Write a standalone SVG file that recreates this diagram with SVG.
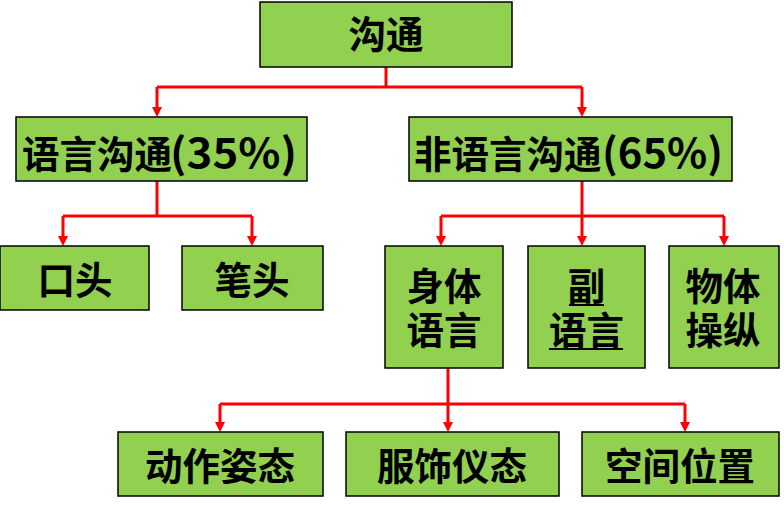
<svg xmlns="http://www.w3.org/2000/svg" width="784" height="509" viewBox="0 0 784 509">
<style>
.box{fill:#92D050;stroke:#000;stroke-width:1.5}
.t{font-family:"Noto Sans CJK SC","Microsoft YaHei",sans-serif;font-weight:bold;font-size:37.5px;fill:#000}
.c{text-anchor:middle}
.lat{font-size:41px}
.ln{fill:none;stroke:#FF0000;stroke-width:3}
.ul{stroke:#000;stroke-width:2}
</style>
<defs>
<marker id="ah" viewBox="0 0 10 10" markerUnits="userSpaceOnUse" markerWidth="10" markerHeight="11" refX="4" refY="5" orient="auto">
<path d="M0,0 L10,5 L0,10 z" fill="#FF0000"/>
</marker>
</defs>
<rect width="784" height="509" fill="#fff"/>
<g id="connectors">
<path class="ln" d="M386,67 V87"/>
<path class="ln" d="M157,87 H582"/>
<path class="ln" d="M157,87 V111" marker-end="url(#ah)"/>
<path class="ln" d="M582,87 V111" marker-end="url(#ah)"/>
<path class="ln" d="M157,181 V216"/>
<path class="ln" d="M63,216 H252"/>
<path class="ln" d="M63,216 V240" marker-end="url(#ah)"/>
<path class="ln" d="M252,216 V240" marker-end="url(#ah)"/>
<path class="ln" d="M582,181 V216"/>
<path class="ln" d="M441,216 H724"/>
<path class="ln" d="M441,216 V240" marker-end="url(#ah)"/>
<path class="ln" d="M582,216 V240" marker-end="url(#ah)"/>
<path class="ln" d="M724,216 V240" marker-end="url(#ah)"/>
<path class="ln" d="M448,368 V404"/>
<path class="ln" d="M220,404 H685"/>
<path class="ln" d="M220,404 V426" marker-end="url(#ah)"/>
<path class="ln" d="M448,404 V426" marker-end="url(#ah)"/>
<path class="ln" d="M685,404 V426" marker-end="url(#ah)"/>
</g>
<g id="n-goutong">
<rect class="box" x="260" y="2" width="252" height="65"/>
<text class="t c" x="386" y="48">沟通</text>
</g>
<g id="n-yuyan">
<rect class="box" x="16" y="117" width="291" height="64"/>
<text class="t" x="22" y="168">语言沟通<tspan class="lat" x="170" textLength="127" lengthAdjust="spacingAndGlyphs">(35%)</tspan></text>
</g>
<g id="n-feiyuyan">
<rect class="box" x="409" y="117" width="323" height="64"/>
<text class="t" x="414" y="168">非语言沟通<tspan class="lat" x="602" textLength="121" lengthAdjust="spacingAndGlyphs">(65%)</tspan></text>
</g>
<g id="n-koutou">
<rect class="box" x="0" y="246" width="149" height="64"/>
<text class="t c" x="75" y="294">口头</text>
</g>
<g id="n-bitou">
<rect class="box" x="182" y="246" width="141" height="64"/>
<text class="t c" x="252" y="294">笔头</text>
</g>
<g id="n-shenti">
<rect class="box" x="385" y="246" width="118" height="122"/>
<text class="t c" x="444" y="300">身体</text>
<text class="t c" x="444" y="344">语言</text>
</g>
<g id="n-fuyuyan">
<rect class="box" x="528" y="246" width="117" height="122"/>
<text class="t c" x="586.5" y="300">副</text>
<text class="t c" x="586.5" y="344">语言</text>
<line class="ul" x1="569" y1="305" x2="604" y2="305"/>
<line class="ul" x1="549" y1="349" x2="623" y2="349"/>
</g>
<g id="n-wuti">
<rect class="box" x="669" y="246" width="110" height="122"/>
<text class="t c" x="723" y="300">物体</text>
<text class="t c" x="723" y="344">操纵</text>
</g>
<g id="n-dongzuo">
<rect class="box" x="118" y="432" width="205" height="64"/>
<text class="t c" x="220" y="480">动作姿态</text>
</g>
<g id="n-fushi">
<rect class="box" x="346" y="432" width="213" height="64"/>
<text class="t c" x="452" y="480">服饰仪态</text>
</g>
<g id="n-kongjian">
<rect class="box" x="582" y="432" width="197" height="64"/>
<text class="t c" x="680" y="480">空间位置</text>
</g>
</svg>
